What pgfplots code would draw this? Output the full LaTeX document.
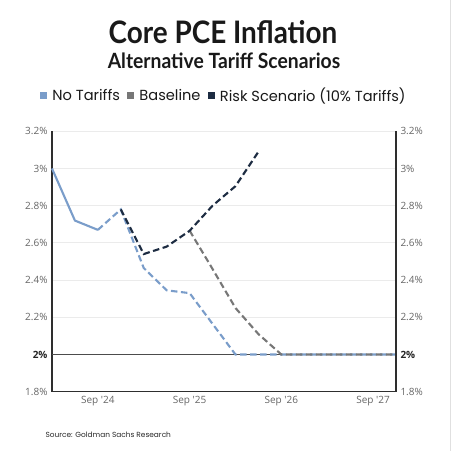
\documentclass[border=0pt]{standalone}
\usepackage{fontspec}
\usepackage{pgfplots}
\pgfplotsset{compat=1.18}
\setmainfont{Poppins}
\newfontfamily\tickfont{Open Sans}
\newfontfamily\titlefont{Lato}
\definecolor{cblue}{HTML}{7A9DCA}
\definecolor{cgray}{HTML}{777777}
\definecolor{cnavy}{HTML}{1D2C42}
\definecolor{ctick}{HTML}{666666}
\definecolor{caxis}{HTML}{2E2E2E}
\begin{document}
\begin{tikzpicture}
\path[use as bounding box] (0,0) rectangle (452bp,451bp);
\fill[white] (0,0) rectangle (452bp,451bp);
\draw[black!12, line width=0.6bp] (450bp,0bp) -- (450bp,451bp);
\node[font={\titlefont\bfseries\fontsize{31bp}{34bp}\selectfont}, text=black!90] at (223bp,418.5bp) {\scalebox{0.9}[1]{Core PCE Inflation}};
\node[font={\titlefont\bfseries\fontsize{21bp}{24bp}\selectfont}, text=black!90] at (224bp,390.5bp) {\scalebox{0.92}[1]{Alternative Tariff Scenarios}};
\node[anchor=west, font={\fontsize{7.4bp}{9bp}\selectfont}, text=black!85] at (42bp,16bp) {Source: Goldman Sachs Research};
\begin{axis}[
  at={(52bp,59.3bp)}, anchor=south west,
  scale only axis, width=344bp, height=260.4bp,
  xmin=-2, xmax=13, ymin=1.8, ymax=3.2,
  axis lines*=left,
  axis line style={caxis, line width=1.6bp},
  xtick={0,4,8,12},
  xticklabels={Sep '24, Sep '25, Sep '26, Sep '27},
  ytick={1.8,2.0,2.2,2.4,2.6,2.8,3.0,3.2},
  yticklabels={1.8\%,\textbf{\color{black!85}2\%},2.2\%,2.4\%,2.6\%,2.8\%,3\%,3.2\%},
  major tick length=0pt,
  tick label style={font={\tickfont\fontsize{10bp}{12bp}\selectfont}, text=ctick},
  xticklabel style={yshift=-1bp},
  yticklabel style={xshift=-1bp},
  ymajorgrids, grid style={black!8, line width=0.9bp},
  clip=false,
  legend columns=3,
  legend style={draw=none, fill=none, at={(0.5,1)}, anchor=center, yshift=35.5bp, xshift=0bp,
    font={\fontsize{14.6bp}{16bp}\selectfont}, text=black!90,
    /tikz/every even column/.append style={column sep=5.5bp}},
]
\addplot[black!70, line width=1bp, forget plot] coordinates {(-2,2.0) (13,2.0)};
\addplot[cblue, line width=2.1bp, forget plot] coordinates {(-2,3.00) (-1,2.72) (0,2.67)};
\addplot[cblue, line width=2.1bp, dash pattern=on 6.5bp off 3.5bp,
  legend image code/.code={\path[fill=cblue, draw=none] (0bp,-3.5bp) rectangle (7bp,3.5bp); \path[draw=none] (0bp,0bp) -- (10bp,0bp);}] coordinates {(0,2.67) (1,2.78) (2,2.465) (3,2.345) (4,2.33) (5,2.165) (6,2.00) (7,2.00) (8,2.00) (9,2.00) (10,2.00) (11,2.00) (12,2.00) (13,2.00)};
\addlegendentry{No Tariffs}
\addplot[cgray, line width=2.1bp, dash pattern=on 6.5bp off 3.5bp,
  legend image code/.code={\path[fill=cgray, draw=none] (0bp,-3.5bp) rectangle (7bp,3.5bp); \path[draw=none] (0bp,0bp) -- (10bp,0bp);}] coordinates {(4,2.666) (5,2.46) (6,2.25) (7,2.11) (8,2.00) (9,2.00) (10,2.00) (11,2.00) (12,2.00) (13,2.00)};
\addlegendentry{Baseline}
\addplot[cnavy, line width=2.1bp, dash pattern=on 6.5bp off 3.5bp,
  legend image code/.code={\path[fill=cnavy, draw=none] (0bp,-3.5bp) rectangle (7bp,3.5bp); \path[draw=none] (0bp,0bp) -- (10bp,0bp);}] coordinates {(1,2.78) (2,2.54) (3,2.58) (4,2.665) (5,2.80) (6,2.905) (7,3.09)};
\addlegendentry{Risk Scenario (10\% Tariffs)}
\end{axis}
\begin{axis}[
  at={(52bp,59.3bp)}, anchor=south west,
  scale only axis, width=344bp, height=260.4bp,
  xmin=-2, xmax=13, ymin=1.8, ymax=3.2,
  axis x line=none, axis y line*=right,
  axis line style={caxis, line width=1.6bp},
  ytick={1.8,2.0,2.2,2.4,2.6,2.8,3.0,3.2},
  yticklabels={1.8\%,\textbf{\color{black!85}2\%},2.2\%,2.4\%,2.6\%,2.8\%,3\%,3.2\%},
  major tick length=0pt,
  tick label style={font={\tickfont\fontsize{10bp}{12bp}\selectfont}, text=ctick},
  yticklabel style={xshift=1bp},
]
\end{axis}
\end{tikzpicture}
\end{document}
